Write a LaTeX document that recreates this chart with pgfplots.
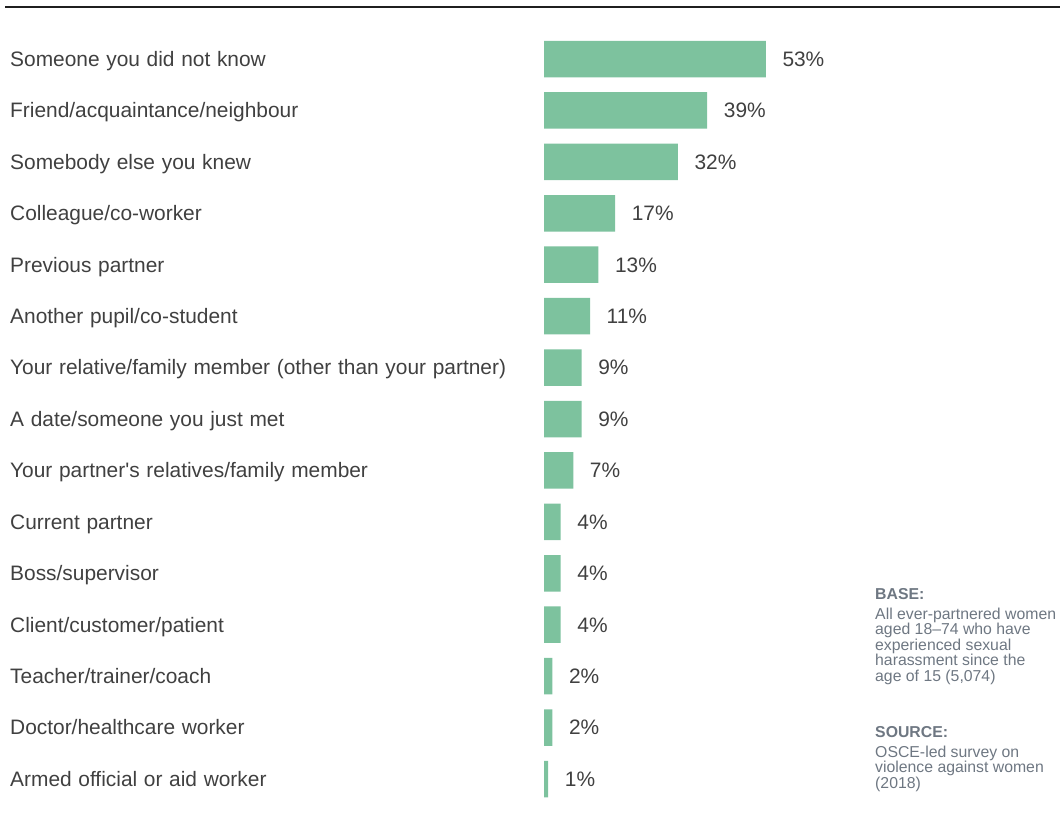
\documentclass[border=0pt]{standalone}
\usepackage{pgfplots}
\pgfplotsset{compat=1.18}
\usepackage{fontspec}
\setmainfont{Liberation Sans}
\definecolor{barc}{HTML}{7DC29E}
\definecolor{txt}{HTML}{404040}
\definecolor{note}{HTML}{6E7782}
\newcommand\lab{\fontsize{20.9}{24}\selectfont\spaceskip=0.32em plus 0.1em\relax}
\newcommand\nt{\fontsize{15.8}{16}\selectfont}
\begin{document}
\begin{tikzpicture}
\path[use as bounding box] (0,0) rectangle (1060pt,-812pt);
\draw[line width=2.2pt, color=black!88] (5pt,-7.2pt) -- (1060pt,-7.2pt);
\begin{axis}[
  at={(544pt,-804.7pt)}, anchor=south west,
  scale only axis, width=251.1pt, height=771.4pt,
  xmin=0, xmax=60, ymin=-0.5, ymax=14.5, y dir=reverse,
  xbar, bar width=36.5pt, bar shift=0pt,
  axis line style={draw=none}, major tick length=0pt,
  xtick=\empty, ytick={0,...,14},
  yticklabels={Someone you did not know, Friend/acquaintance/neighbour, Somebody else you knew, Colleague/co-worker, Previous partner, Another pupil/co-student, Your relative/family member (other than your partner), A date/someone you just met, Your partner\textquotesingle s relatives/family member, Current partner, Boss/supervisor, Client/customer/patient, Teacher/trainer/coach, Doctor/healthcare worker, Armed official or aid worker},
  yticklabel style={anchor=west, xshift=-534pt, inner sep=0pt, text height=14.6pt, text depth=0pt, font=\lab, text=txt},
  /pgf/number format/assume math mode=true,
  nodes near coords={\pgfmathprintnumber{\pgfplotspointmeta}\%},
  every node near coord/.append style={anchor=west, inner sep=0pt, xshift=16.5pt, text height=14.6pt, text depth=0pt, font=\lab, text=txt},
  clip=false,
]
\addplot[draw=none, fill=barc] coordinates {
(53,0) (39,1) (32,2) (17,3) (13,4) (11,5) (9,6) (9,7) (7,8) (4,9) (4,10) (4,11) (2,12) (2,13) (1,14)};
\end{axis}
\begin{scope}[every node/.style={anchor=base west, inner sep=0pt, text=note, font=\nt}]
\node[font=\nt\bfseries] at (875pt,-599pt) {BASE:};
\node at (875pt,-619.5pt) {All ever-partnered women};
\node at (875pt,-634.9pt) {aged 18–74 who have};
\node at (875pt,-650.3pt) {experienced sexual};
\node at (875pt,-665.7pt) {harassment since the};
\node at (875pt,-681.1pt) {age of 15 (5,074)};
\node[font=\nt\bfseries] at (875pt,-737.5pt) {SOURCE:};
\node at (875pt,-757.5pt) {OSCE-led survey on};
\node at (875pt,-772.9pt) {violence against women};
\node at (875pt,-788.3pt) {(2018)};
\end{scope}
\end{tikzpicture}
\end{document}
